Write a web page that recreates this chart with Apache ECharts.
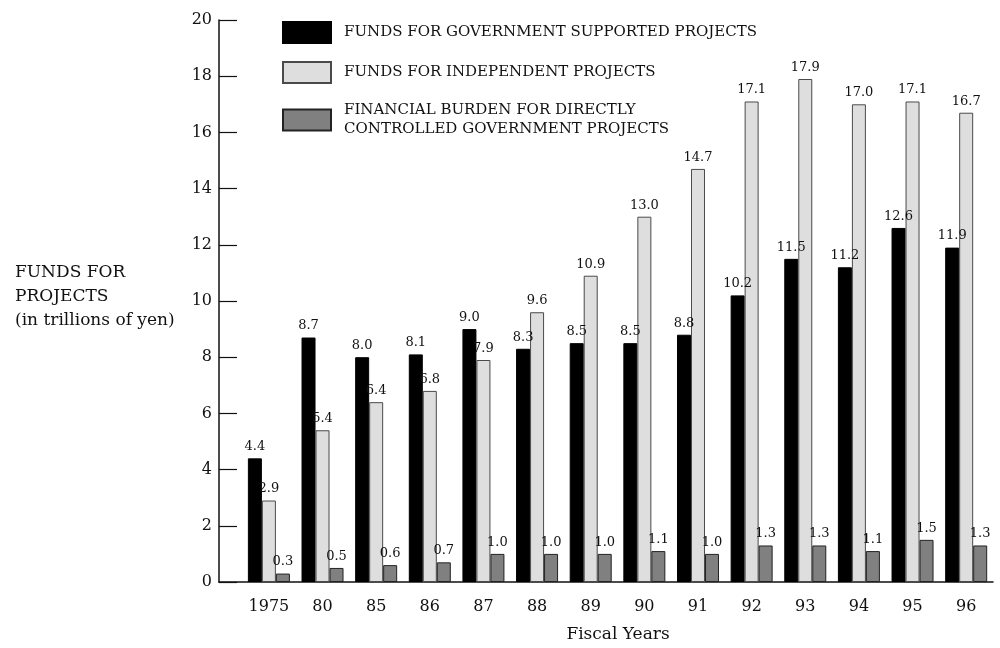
<!DOCTYPE html>
<html>
<head>
<meta charset="utf-8">
<style>
  html, body { margin: 0; padding: 0; background: #fff; }
  #chart { width: 1000px; height: 648px; }
</style>
<script src="https://cdn.jsdelivr.net/npm/echarts@6/dist/echarts.min.js"></script>
</head>
<body>
<div id="chart"></div>
<script>
// fiscal years on the x axis
var years = ['1975', '80', '85', '86', '87', '88', '89', '90', '91', '92', '93', '94', '95', '96'];
// trillions of yen
var govSupported = [4.4, 8.7, 8.0, 8.1, 9.0, 8.3, 8.5, 8.5, 8.8, 10.2, 11.5, 11.2, 12.6, 11.9];
var independent = [2.9, 5.4, 6.4, 6.8, 7.9, 9.6, 10.9, 13.0, 14.7, 17.1, 17.9, 17.0, 17.1, 16.7];
var directBurden = [0.3, 0.5, 0.6, 0.7, 1.0, 1.0, 1.0, 1.1, 1.0, 1.3, 1.3, 1.1, 1.5, 1.3];
var yTicks = [0, 2, 4, 6, 8, 10, 12, 14, 16, 18, 20];

var serif = 'DejaVu Serif';
var ink = '#111111';

function pairs(arr) {
    return arr.map(function(v, i) { return [i, v]; });
}

function barSeries(name, data, fill, border) {
    return {
        name: name,
        type: 'bar',
        barWidth: 14,
        barGap: '0%',
        data: pairs(data),
        itemStyle: { color: fill, borderColor: border, borderWidth: 1 },
        label: {
            show: true,
            position: 'top',
            distance: 5,
            fontFamily: serif,
            fontSize: 13,
            color: ink,
            formatter: function(p) { return p.value[1].toFixed(1); }
        }
    };
}

var chart = echarts.init(document.getElementById('chart'), null, { renderer: 'canvas' });

var option = {
    animation: false,
    backgroundColor: '#fff',
    title: {
        text: 'FUNDS FOR\nPROJECTS\n(in trillions of yen)',
        left: 15,
        top: 261,
        padding: 0,
        textStyle: { fontFamily: serif, fontSize: 17, fontWeight: 'normal', color: ink, lineHeight: 24 }
    },
    legend: {
        orient: 'vertical',
        left: 282,
        top: 21,
        padding: 0,
        itemWidth: 48,
        itemHeight: 21,
        itemGap: 17,
        icon: 'rect',
        textStyle: { fontFamily: serif, fontSize: 15, color: ink, lineHeight: 19, padding: [0, 0, 0, 8] },
        data: [
            'FUNDS FOR GOVERNMENT SUPPORTED PROJECTS',
            'FUNDS FOR INDEPENDENT PROJECTS',
            'FINANCIAL BURDEN FOR DIRECTLY\nCONTROLLED GOVERNMENT PROJECTS'
        ]
    },
    grid: { left: 219, right: 7, top: 20, bottom: 59, containLabel: false },
    xAxis: {
        type: 'value',
        min: -0.93,
        max: 13.5,
        name: 'Fiscal Years',
        nameLocation: 'middle',
        nameGap: 44,
        nameTextStyle: { fontFamily: serif, fontSize: 17, color: ink, padding: [0, 0, 0, 24] },
        splitLine: { show: false },
        axisLine: { show: true, onZero: false, lineStyle: { color: ink, width: 1.5 } },
        axisTick: { show: false },
        axisLabel: {
            customValues: years.map(function(y, i) { return i; }),
            formatter: function(v) { return years[Math.round(v)]; },
            fontFamily: serif,
            fontSize: 16,
            color: ink,
            margin: 17
        }
    },
    yAxis: {
        type: 'value',
        min: 0,
        max: 20,
        interval: 2,
        splitLine: { show: false },
        axisLine: { show: true, onZero: false, lineStyle: { color: ink, width: 1.5 } },
        axisTick: { show: true, inside: true, length: 18, lineStyle: { color: ink, width: 1.2 },
            customValues: yTicks },
        axisLabel: { fontFamily: serif, fontSize: 16, color: ink, margin: 7, customValues: yTicks }
    },
    series: [
        barSeries('FUNDS FOR GOVERNMENT SUPPORTED PROJECTS', govSupported, '#000000', '#000000'),
        barSeries('FUNDS FOR INDEPENDENT PROJECTS', independent, '#dedede', '#4a4a4a'),
        barSeries('FINANCIAL BURDEN FOR DIRECTLY\nCONTROLLED GOVERNMENT PROJECTS', directBurden, '#808080', '#222222')
    ]
};

chart.setOption(option);
</script>
</body>
</html>
